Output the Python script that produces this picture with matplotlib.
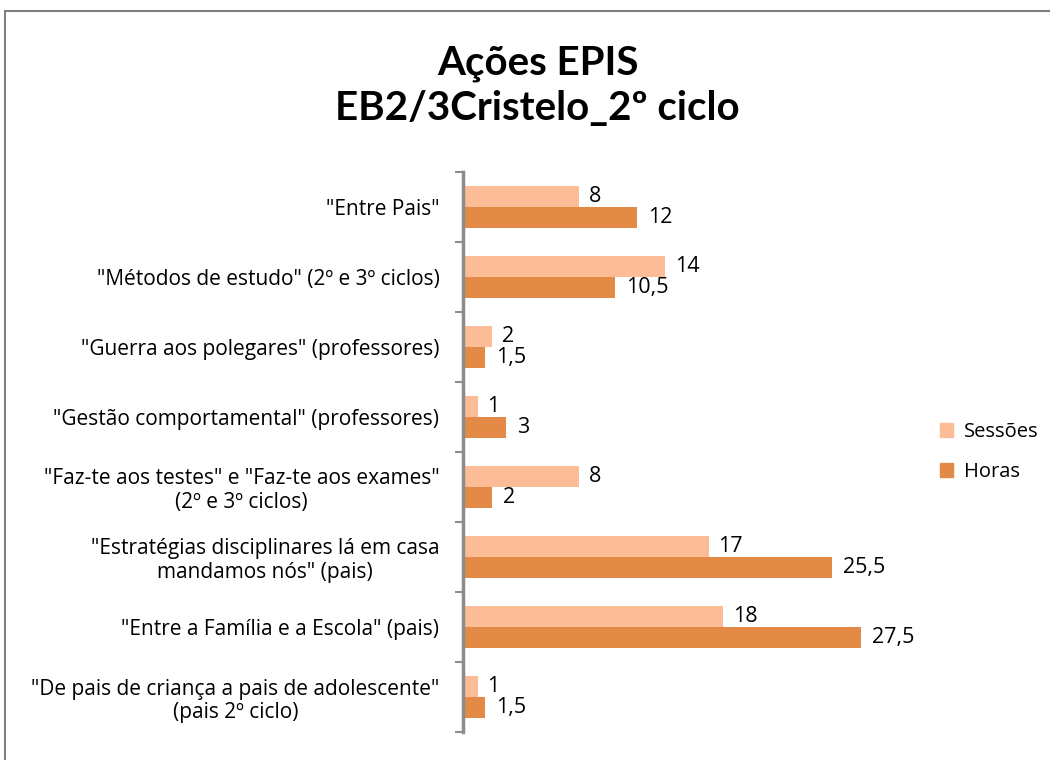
import matplotlib.pyplot as plt
import numpy as np
from matplotlib.patches import Rectangle, Patch

plt.rcParams["font.family"] = ["Open Sans", "DejaVu Sans"]

categories = [
    '"Entre Pais"',
    '"Métodos de estudo" (2º e 3º ciclos)',
    '"Guerra aos polegares" (professores)',
    '"Gestão comportamental" (professores)',
    '"Faz-te aos testes" e "Faz-te aos exames"\n(2º e 3º ciclos)',
    '"Estratégias disciplinares lá em casa\nmandamos nós" (pais)',
    '"Entre a Família e a Escola" (pais)',
    '"De pais de criança a pais de adolescente"\n(pais 2º ciclo)',
]
sessoes = [8, 14, 2, 1, 8, 17, 18, 1]
horas = [12, 10.5, 1.5, 3, 2, 25.5, 27.5, 1.5]
sessoes_labels = ["8", "14", "2", "1", "8", "17", "18", "1"]
horas_labels = ["12", "10,5", "1,5", "3", "2", "25,5", "27,5", "1,5"]

c_sess = "#FCBC96"
c_horas = "#E38B46"

fig = plt.figure(figsize=(10.5, 7.6), dpi=100)
fig.patches.append(Rectangle((0.005, -0.01), 1.2, 0.995, transform=fig.transFigure,
                             fill=False, edgecolor="#7f7f7f", linewidth=1.5))

ax = fig.add_axes([0.441, 0.0368, 0.413, 0.737])

y = np.arange(len(categories))
h = 0.3
ax.barh(y - h / 2, sessoes, height=h, color=c_sess, label="Sessões")
ax.barh(y + h / 2, horas, height=h, color=c_horas, label="Horas")

for yi, v, lab in zip(y, sessoes, sessoes_labels):
    ax.annotate(lab, (v, yi - h / 2), xytext=(7, 0), textcoords="offset points",
                va="center", ha="left", fontsize=15.5)
for yi, v, lab in zip(y, horas, horas_labels):
    ax.annotate(lab, (v, yi + h / 2), xytext=(8, 0), textcoords="offset points",
                va="center", ha="left", fontsize=15.5)

ax.set_xlim(0, 30)
ax.set_ylim(len(categories) - 0.5, -0.5)
ax.set_xticks([])
ax.set_yticks(y)
ax.set_yticklabels(categories, fontsize=15, multialignment="center",
                   linespacing=1.18)
ax.set_yticks(np.arange(-0.5, len(categories)), minor=True)
ax.tick_params(axis="y", which="major", length=0, pad=17)
ax.tick_params(axis="y", which="minor", length=6, width=1.5, color="#8c8c8c")
for s in ["top", "right", "bottom"]:
    ax.spines[s].set_visible(False)
ax.spines["left"].set_color("#8c8c8c")
ax.spines["left"].set_linewidth(2.5)

fig.text(0.512, 0.917, "Ações EPIS", ha="center", va="center",
         fontsize=29, fontweight="bold", family=["Lato", "DejaVu Sans"])
fig.text(0.512, 0.857, "EB2/3Cristelo_2º ciclo", ha="center", va="center",
         fontsize=29, fontweight="bold", family=["Lato", "DejaVu Sans"])

handles = [Patch(color=c_sess, label="Sessões"), Patch(color=c_horas, label="Horas")]
fig.legend(handles=handles, loc="center left", bbox_to_anchor=(0.878, 0.405),
           frameon=False, fontsize=14.5, handlelength=0.65, handleheight=0.65,
           labelspacing=1.0, handletextpad=0.55)

fig.savefig("out.png", dpi=100)
